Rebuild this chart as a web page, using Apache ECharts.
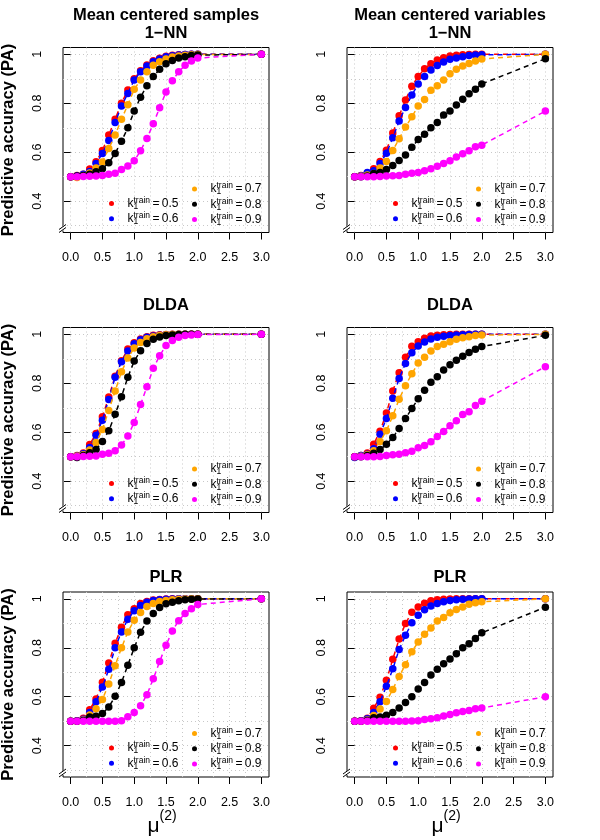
<!DOCTYPE html>
<html><head><meta charset="utf-8">
<script src="https://cdn.jsdelivr.net/npm/echarts@6/dist/echarts.min.js"></script>
<style>html,body{margin:0;padding:0;background:#fff}#c{width:600px;height:840px}</style>
</head><body><div id="c"></div>
<script>
// ---- data ----
const X = [0, 0.1, 0.2, 0.3, 0.4, 0.5, 0.6, 0.7, 0.8, 0.9, 1.0, 1.1, 1.2, 1.3, 1.4, 1.5, 1.6, 1.7, 1.8, 1.9, 2.0, 3.0];
const GROUPS = ['0.5', '0.6', '0.7', '0.8', '0.9'];
const X_TICKS = [0, 0.5, 1, 1.5, 2, 2.5, 3];
const Y_TICKS = [0.4, 0.6, 0.8, 1];
const X_GRID = [0, 0.25, 0.5, 0.75, 1, 1.25, 1.5, 1.75, 2, 2.25, 2.5, 2.75, 3];
const Y_GRID = [0.3, 0.4, 0.5, 0.6, 0.7, 0.8, 0.9, 1.0];
const TITLES = ['Mean centered samples\n1\u2212NN', 'Mean centered variables\n1\u2212NN', 'DLDA', 'DLDA', 'PLR', 'PLR'];
const Y_NAME = 'Predictive accuracy (PA)';

// Mean centered samples, 1-NN
const s1nn_05 = [0.5,0.505,0.51,0.531,0.561,0.607,0.67,0.735,0.80,0.854,0.90,0.933,0.956,0.974,0.984,0.992,0.996,0.998,0.999,1,1,1];
const s1nn_06 = [0.5,0.503,0.51,0.521,0.554,0.595,0.648,0.722,0.789,0.84,0.895,0.929,0.952,0.97,0.981,0.99,0.994,0.997,0.999,1,1,1];
const s1nn_07 = [0.5,0.497,0.505,0.515,0.536,0.56,0.615,0.67,0.735,0.794,0.857,0.895,0.929,0.955,0.97,0.981,0.989,0.993,0.996,0.998,0.999,1];
const s1nn_08 = [0.5,0.502,0.505,0.51,0.52,0.533,0.557,0.595,0.645,0.70,0.768,0.825,0.872,0.91,0.939,0.962,0.975,0.985,0.99,0.995,0.997,1];
const s1nn_09 = [0.5,0.5,0.501,0.502,0.503,0.505,0.51,0.514,0.529,0.544,0.565,0.606,0.656,0.716,0.782,0.846,0.892,0.929,0.955,0.973,0.985,1];
// Mean centered variables, 1-NN
const v1nn_05 = [0.5,0.505,0.515,0.533,0.562,0.608,0.679,0.749,0.813,0.87,0.91,0.941,0.962,0.977,0.986,0.993,0.996,0.998,0.999,1,1,1];
const v1nn_06 = [0.5,0.504,0.517,0.524,0.554,0.596,0.659,0.728,0.783,0.834,0.879,0.91,0.936,0.954,0.969,0.98,0.985,0.99,0.995,0.997,0.998,1];
const v1nn_07 = [0.5,0.502,0.507,0.513,0.536,0.562,0.607,0.655,0.703,0.745,0.789,0.816,0.853,0.872,0.895,0.921,0.939,0.952,0.963,0.973,0.981,1.0];
const v1nn_08 = [0.5,0.5,0.503,0.513,0.517,0.529,0.546,0.566,0.589,0.62,0.652,0.673,0.70,0.722,0.752,0.769,0.793,0.817,0.839,0.857,0.879,0.982];
const v1nn_09 = [0.5,0.5,0.5,0.5,0.501,0.503,0.504,0.505,0.51,0.514,0.517,0.524,0.533,0.543,0.554,0.565,0.581,0.594,0.606,0.622,0.629,0.768];
// Mean centered samples, DLDA
const sdlda_05 = [0.5,0.505,0.515,0.55,0.595,0.663,0.744,0.829,0.892,0.94,0.966,0.981,0.99,0.996,0.998,0.999,1,1,1,1,1,1];
const sdlda_06 = [0.5,0.503,0.512,0.538,0.588,0.649,0.734,0.825,0.888,0.932,0.962,0.978,0.988,0.993,0.996,0.998,0.999,1,1,1,1,1];
const sdlda_07 = [0.5,0.502,0.508,0.527,0.558,0.611,0.689,0.769,0.847,0.903,0.944,0.967,0.982,0.99,0.995,0.998,0.999,1,1,1,1,1];
const sdlda_08 = [0.5,0.497,0.505,0.516,0.529,0.562,0.606,0.673,0.745,0.825,0.891,0.933,0.963,0.98,0.989,0.995,0.997,0.999,1,1,1,1];
const sdlda_09 = [0.5,0.5,0.501,0.502,0.503,0.51,0.514,0.524,0.548,0.585,0.64,0.713,0.786,0.861,0.913,0.954,0.975,0.988,0.995,0.997,0.999,1];
// Mean centered variables, DLDA
const vdlda_05 = [0.5,0.505,0.515,0.551,0.604,0.679,0.768,0.843,0.906,0.951,0.97,0.984,0.993,0.996,0.998,0.999,1,1,1,1,1,1];
const vdlda_06 = [0.497,0.505,0.51,0.533,0.592,0.656,0.739,0.82,0.881,0.925,0.952,0.969,0.981,0.988,0.992,0.995,0.997,0.998,0.999,1,1,1];
const vdlda_07 = [0.5,0.502,0.508,0.524,0.562,0.606,0.667,0.735,0.79,0.839,0.883,0.906,0.932,0.95,0.96,0.97,0.98,0.986,0.99,0.995,0.997,1.0];
const vdlda_08 = [0.5,0.5,0.505,0.514,0.529,0.551,0.578,0.615,0.656,0.697,0.737,0.772,0.804,0.827,0.854,0.876,0.894,0.911,0.926,0.939,0.95,0.996];
const vdlda_09 = [0.5,0.5,0.5,0.5,0.501,0.505,0.508,0.51,0.516,0.522,0.537,0.546,0.561,0.583,0.603,0.626,0.647,0.672,0.684,0.709,0.727,0.868];
// Mean centered samples, PLR
const splr_05 = [0.5,0.502,0.512,0.547,0.591,0.659,0.738,0.819,0.884,0.935,0.96,0.981,0.989,0.995,0.997,0.999,1,1,1,1,1,1];
const splr_06 = [0.5,0.502,0.508,0.536,0.58,0.64,0.712,0.80,0.865,0.917,0.951,0.973,0.986,0.993,0.996,0.998,0.999,1,1,1,1,1];
const splr_07 = [0.5,0.5,0.505,0.525,0.551,0.589,0.652,0.727,0.80,0.865,0.913,0.944,0.969,0.981,0.989,0.993,0.996,0.998,0.999,1,1,1];
const splr_08 = [0.5,0.5,0.503,0.517,0.52,0.531,0.558,0.602,0.658,0.729,0.80,0.864,0.909,0.94,0.965,0.98,0.986,0.992,0.996,0.998,0.999,1];
const splr_09 = [0.5,0.5,0.5,0.5,0.5,0.5,0.5,0.5,0.502,0.518,0.536,0.563,0.608,0.673,0.744,0.81,0.869,0.911,0.94,0.96,0.977,1];
// Mean centered variables, PLR
const vplr_05 = [0.5,0.502,0.512,0.553,0.598,0.667,0.753,0.836,0.899,0.945,0.967,0.982,0.992,0.996,0.998,0.999,1,1,1,1,1,1];
const vplr_06 = [0.5,0.502,0.51,0.536,0.58,0.643,0.714,0.793,0.851,0.902,0.933,0.955,0.971,0.981,0.988,0.993,0.996,0.998,0.999,1,1,1];
const vplr_07 = [0.5,0.5,0.505,0.523,0.55,0.581,0.63,0.683,0.731,0.784,0.824,0.855,0.881,0.909,0.924,0.943,0.956,0.967,0.978,0.984,0.988,1.0];
const vplr_08 = [0.5,0.5,0.503,0.514,0.517,0.524,0.536,0.554,0.576,0.60,0.632,0.658,0.689,0.712,0.735,0.754,0.776,0.80,0.817,0.838,0.861,0.966];
const vplr_09 = [0.5,0.5,0.5,0.5,0.5,0.5,0.5,0.5,0.5,0.501,0.502,0.507,0.51,0.514,0.521,0.527,0.535,0.54,0.544,0.551,0.554,0.60];

const PANELS = [
  [s1nn_05, s1nn_06, s1nn_07, s1nn_08, s1nn_09],
  [v1nn_05, v1nn_06, v1nn_07, v1nn_08, v1nn_09],
  [sdlda_05, sdlda_06, sdlda_07, sdlda_08, sdlda_09],
  [vdlda_05, vdlda_06, vdlda_07, vdlda_08, vdlda_09],
  [splr_05, splr_06, splr_07, splr_08, splr_09],
  [vplr_05, vplr_06, vplr_07, vplr_08, vplr_09]
];

// ---- style / layout ----
const COLORS = ['#FF0000', '#0000FF', '#FFA500', '#000000', '#FF00FF'];
const FONT = "'Liberation Sans', Arial, Helvetica, sans-serif";
const COL_LEFT = [63, 347], BOX_W = 206;
const ROW_TOP = [47.5, 327.5, 592], BOX_H = 185;
const TITLE_TOP = [6, 296, 568];
const XMIN = -0.12, XMAX = 3.12, YMIN = 0.272, YMAX = 1.028;

const legendRich = {
  k: {fontSize: 12, lineHeight: 15, fontFamily: FONT, color: '#000'},
  s: {fontSize: 8.5, lineHeight: 8.5, verticalAlign: 'bottom', width: 0, fontFamily: FONT, color: '#000'},
  t: {fontSize: 8.5, lineHeight: 8.5, verticalAlign: 'top', fontFamily: FONT, color: '#000'},
  v: {fontSize: 12, lineHeight: 15, fontFamily: FONT, color: '#000'}
};
const legendFmt = name => '{k|k}{s|1}{t|train}{v|\u2009=\u2009' + name + '}';
const gridLine = {show: true, lineStyle: {color: '#C8C8C8', type: [1, 3], width: 1}};

const grid = [], xAxis = [], yAxis = [], series = [], legend = [], title = [], graphic = [];
PANELS.forEach((vals, p) => {
  const row = Math.floor(p / 2), col = p % 2;
  const left = COL_LEFT[col], top = ROW_TOP[row];
  grid.push({left: left, top: top, width: BOX_W, height: BOX_H, show: true,
    borderColor: '#000', borderWidth: 1, backgroundColor: 'transparent',
    containLabel: false, outerBoundsMode: 'none'});
  const xa = {gridIndex: p, type: 'value', min: XMIN, max: XMAX, position: 'bottom',
    axisLine: {show: false},
    axisTick: {show: true, inside: false, length: 7, customValues: X_TICKS, lineStyle: {color: '#000', width: 1}},
    axisLabel: {show: true, customValues: X_TICKS, formatter: v => v.toFixed(1), margin: 19,
      color: '#000', fontSize: 12.5, fontFamily: FONT},
    splitLine: {show: false}};
  if (row === 2) {
    Object.assign(xa, {name: '{m|\u03bc}{s|(2)}', nameLocation: 'middle', nameGap: 32, nameMoveOverlap: false,
      nameTextStyle: {rich: {
        m: {fontSize: 21, lineHeight: 34, fontFamily: FONT, color: '#000'},
        s: {fontSize: 14, lineHeight: 16, verticalAlign: 'top', padding: [0, 8, 0, 0], fontFamily: FONT, color: '#000'}
      }}});
  }
  xAxis.push(xa);
  xAxis.push({gridIndex: p, type: 'value', min: XMIN, max: XMAX, position: 'top',
    axisLine: {show: false}, axisTick: {show: false, customValues: X_GRID},
    axisLabel: {show: false}, splitLine: gridLine});
  const ya = {gridIndex: p, type: 'value', min: YMIN, max: YMAX, position: 'left',
    axisLine: {show: false},
    axisTick: {show: true, inside: false, length: 7, customValues: Y_TICKS, lineStyle: {color: '#000', width: 1}},
    axisLabel: {show: true, customValues: Y_TICKS, rotate: 90, margin: 18.5,
      formatter: v => (Math.abs(v - 1) < 1e-9 ? '1' : v.toFixed(1)),
      color: '#000', fontSize: 12.5, fontFamily: FONT},
    splitLine: {show: false}};
  if (col === 0) {
    Object.assign(ya, {name: Y_NAME, nameLocation: 'middle', nameGap: 46, nameMoveOverlap: false,
      nameTextStyle: {fontSize: 16.5, fontWeight: 'bold', fontFamily: FONT, color: '#000'}});
  }
  yAxis.push(ya);
  yAxis.push({gridIndex: p, type: 'value', min: YMIN, max: YMAX, position: 'right',
    axisLine: {show: false}, axisTick: {show: false, customValues: Y_GRID},
    axisLabel: {show: false}, splitLine: gridLine});

  GROUPS.forEach((g, i) => {
    series.push({name: g, type: 'line', xAxisIndex: 2 * p, yAxisIndex: 2 * p,
      data: X.map((x, j) => [x, vals[i][j]]),
      symbol: 'circle', symbolSize: 7.5, showSymbol: true, showAllSymbol: true,
      itemStyle: {color: COLORS[i]},
      lineStyle: {color: COLORS[i], width: 1.5, type: [5, 4]},
      silent: true, animation: false, z: 2 + i});
  });

  const legBase = {orient: 'vertical', padding: 0, itemGap: 0.3, itemWidth: 22, itemHeight: 5,
    icon: 'circle', selectedMode: false, formatter: legendFmt,
    lineStyle: {width: 0, opacity: 0},
    textStyle: {rich: legendRich, fontFamily: FONT, color: '#000'}};
  legend.push(Object.assign({}, legBase, {data: GROUPS.slice(0, 2), left: left + 46, top: top + BOX_H - 36.5}));
  legend.push(Object.assign({}, legBase, {data: GROUPS.slice(2), left: left + 129, top: top + BOX_H - 51}));

  title.push({text: TITLES[p], left: left + BOX_W / 2, top: TITLE_TOP[row], textAlign: 'center', padding: 0,
    textStyle: {fontSize: 16.5, fontWeight: 'bold', fontFamily: FONT, color: '#000', lineHeight: 18.5}});

  // axis break marks at the bottom-left corner
  const yb = top + BOX_H;
  graphic.push({type: 'rect', silent: true, z: 100, shape: {x: left - 1.5, y: yb - 6, width: 3, height: 4}, style: {fill: '#fff'}});
  graphic.push({type: 'line', silent: true, z: 101, shape: {x1: left - 4, y1: yb - 3, x2: left + 3, y2: yb - 8}, style: {stroke: '#000', lineWidth: 1}});
  graphic.push({type: 'line', silent: true, z: 101, shape: {x1: left - 4, y1: yb, x2: left + 3, y2: yb - 5}, style: {stroke: '#000', lineWidth: 1}});
});

const chart = echarts.init(document.getElementById('c'), null, {renderer: 'canvas'});
chart.setOption({
  animation: false,
  backgroundColor: '#fff',
  textStyle: {fontFamily: FONT},
  title: title, grid: grid, xAxis: xAxis, yAxis: yAxis,
  legend: legend, series: series, graphic: graphic
});
</script>
</body></html>
